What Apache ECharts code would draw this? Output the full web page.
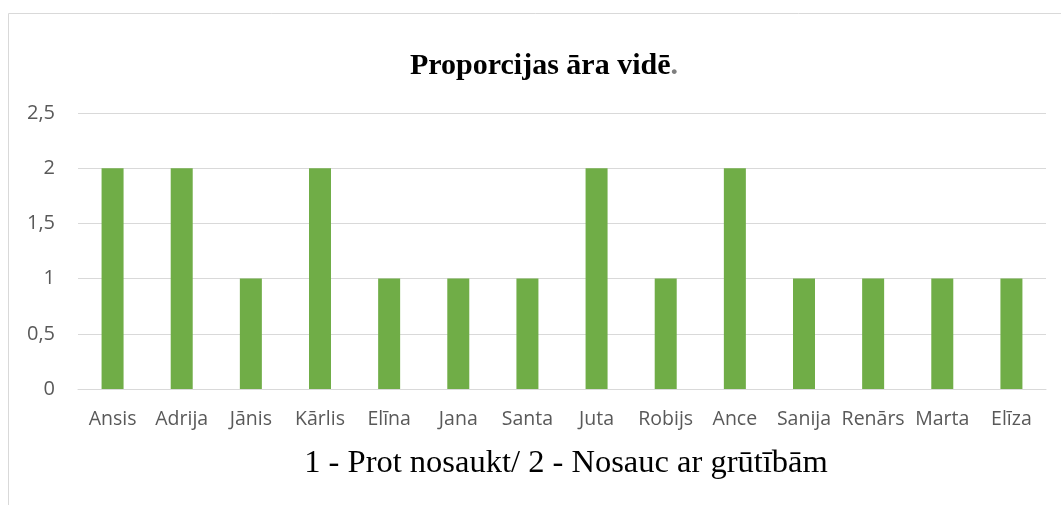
<!DOCTYPE html>
<html>
<head>
<meta charset="utf-8">
<script src="https://cdn.jsdelivr.net/npm/echarts@6/dist/echarts.min.js"></script>
<style>
  html, body { margin: 0; padding: 0; background: #fff; }
  #chart { width: 1061px; height: 505px; }
</style>
</head>
<body>
<div id="chart"></div>
<script>
// names of the children
const names = ['Ansis', 'Adrija', 'Jānis', 'Kārlis', 'Elīna', 'Jana', 'Santa', 'Juta', 'Robijs', 'Ance', 'Sanija', 'Renārs', 'Marta', 'Elīza'];
// 1 - Prot nosaukt, 2 - Nosauc ar grūtībām
const scores = [2, 2, 1, 2, 1, 1, 1, 2, 1, 2, 1, 1, 1, 1];

const chart = echarts.init(document.getElementById('chart'));

const option = {
  animation: false,
  graphic: [
    {
      type: 'rect',
      shape: { x: 8.5, y: 13.5, width: 1100, height: 600 },
      style: { fill: 'none', stroke: '#d9d9d9', lineWidth: 1 },
      silent: true
    }
  ],
  title: {
    text: '{a|Proporcijas āra vidē}{b|.}',
    left: 539,
    top: 46,
    textAlign: 'center',
    textStyle: {
      rich: {
        a: { fontFamily: 'Liberation Serif', fontSize: 30, fontWeight: 'bold', color: '#000' },
        b: { fontFamily: 'Liberation Serif', fontSize: 30, fontWeight: 'bold', color: '#7f7f7f' }
      }
    }
  },
  grid: {
    left: 78,
    right: 15,
    top: 113,
    bottom: 116
  },
  xAxis: {
    type: 'category',
    data: names,
    name: '1 - Prot nosaukt/ 2 - Nosauc ar grūtībām',
    nameLocation: 'middle',
    nameGap: 58,
    nameTextStyle: { fontFamily: 'Liberation Serif', fontSize: 32.5, color: '#000', padding: [0, 0, 0, 8] },
    axisLine: { lineStyle: { color: '#d9d9d9', width: 1 } },
    axisTick: { show: false },
    axisLabel: {
      interval: 0,
      margin: 20,
      fontFamily: 'Open Sans',
      fontSize: 19.5,
      color: '#595959'
    }
  },
  yAxis: {
    type: 'value',
    min: 0,
    max: 2.5,
    interval: 0.5,
    axisLine: { show: false },
    axisTick: { show: false },
    splitLine: { lineStyle: { color: '#d9d9d9', width: 1 } },
    axisLabel: {
      margin: 23,
      fontFamily: 'Open Sans',
      fontSize: 20,
      color: '#595959',
      formatter: v => String(v).replace('.', ',')
    }
  },
  series: [
    {
      type: 'bar',
      data: scores,
      barWidth: 22,
      itemStyle: { color: '#70ad47' }
    }
  ]
};

chart.setOption(option);
</script>
</body>
</html>
